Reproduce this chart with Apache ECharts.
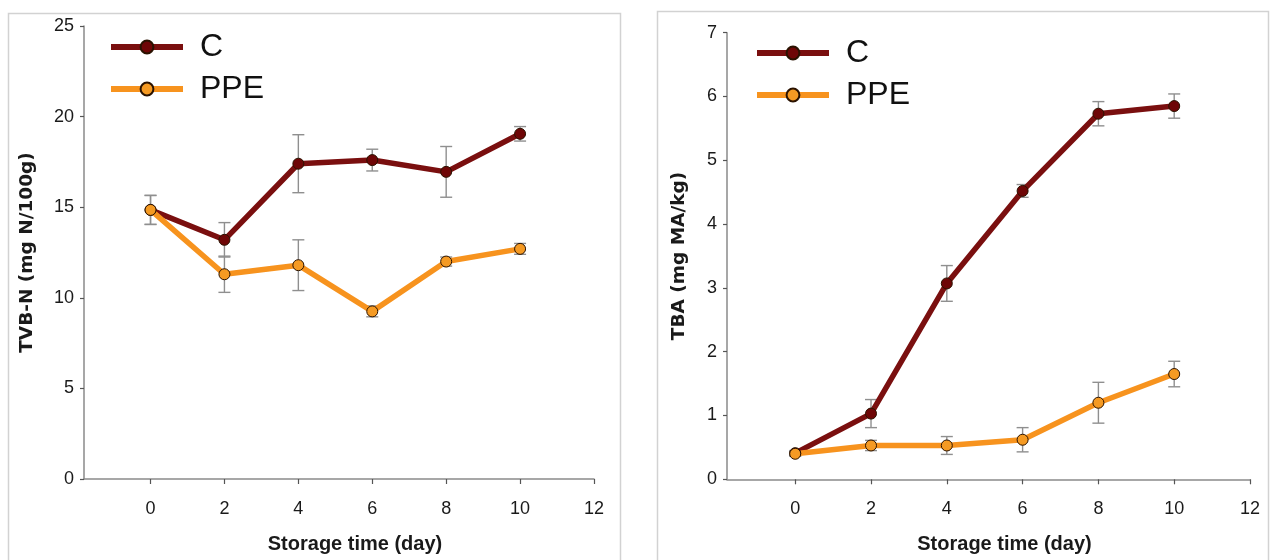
<!DOCTYPE html>
<html>
<head>
<meta charset="utf-8">
<title>TVB-N and TBA during storage</title>
<script src="https://cdn.jsdelivr.net/npm/echarts@6/dist/echarts.min.js"></script>
<style>
  html, body { margin: 0; padding: 0; background: #fff; }
  #chart { width: 1271px; height: 560px; }
</style>
</head>
<body>
<div id="chart"></div>
<script>
// Storage days and the tick labels shown on the x axes
const days = [0, 2, 4, 6, 8, 10];
const dayTicks = [0, 2, 4, 6, 8, 10, 12];

// TVB-N (mg N/100g): means and standard deviations
const tvbnC = [14.85, 13.2, 17.4, 17.6, 16.95, 19.05];
const tvbnCErr = [0.8, 0.95, 1.6, 0.6, 1.4, 0.4];
const tvbnPPE = [14.85, 11.3, 11.8, 9.25, 12.0, 12.7];
const tvbnPPEErr = [0.8, 1.0, 1.4, 0.3, 0.25, 0.3];

// TBA (mg MA/kg): means and standard deviations
const tbaC = [0.41, 1.03, 3.07, 4.52, 5.73, 5.85];
const tbaCErr = [0.04, 0.22, 0.28, 0.1, 0.19, 0.19];
const tbaPPE = [0.40, 0.53, 0.53, 0.62, 1.2, 1.65];
const tbaPPEErr = [0.04, 0.08, 0.14, 0.19, 0.32, 0.2];

const NARROW = "'Liberation Sans Narrow', 'Liberation Sans', Arial, sans-serif";
const BOLD = "'DejaVu Sans', 'Liberation Sans', sans-serif";
const C_LINE = '#7a0f0f';
const C_FILL = '#6e0606';
const PPE_LINE = '#f7931e';
const PPE_FILL = '#f59a23';

const pts = (ys) => days.map((d, i) => [d, ys[i]]);
const bars = (ys, es) => days.map((d, i) => [d, ys[i] - es[i], ys[i] + es[i]]);

function errorSeries(idx, ys, es) {
  return {
    type: 'custom',
    xAxisIndex: idx, yAxisIndex: idx,
    z: 1,
    silent: true,
    encode: { x: 0, y: [1, 2] },
    data: bars(ys, es),
    renderItem: (params, api) => {
      const lo = api.coord([api.value(0), api.value(1)]);
      const hi = api.coord([api.value(0), api.value(2)]);
      const w = 6;
      const style = { stroke: '#8f8f8f', lineWidth: 1.4 };
      return {
        type: 'group',
        children: [
          { type: 'line', shape: { x1: lo[0], y1: lo[1], x2: hi[0], y2: hi[1] }, style },
          { type: 'line', shape: { x1: lo[0] - w, y1: lo[1], x2: lo[0] + w, y2: lo[1] }, style },
          { type: 'line', shape: { x1: hi[0] - w, y1: hi[1], x2: hi[0] + w, y2: hi[1] }, style }
        ]
      };
    }
  };
}

function lineSeries(idx, name, ys, lineColor, fillColor) {
  return {
    type: 'line',
    name,
    xAxisIndex: idx, yAxisIndex: idx,
    z: 3,
    data: pts(ys),
    symbol: 'circle',
    symbolSize: 11,
    lineStyle: { color: lineColor, width: 5.5 },
    itemStyle: { color: fillColor, borderColor: '#2a1200', borderWidth: 1 },
    emphasis: { disabled: true },
    animation: false
  };
}

function xAxis(idx) {
  return {
    type: 'value', gridIndex: idx,
    min: -1.8, max: 12,
    name: 'Storage time (day)',
    nameLocation: 'middle',
    nameGap: 55,
    nameTextStyle: { fontFamily: NARROW, fontWeight: 'bold', fontSize: 20, color: '#1a1a1a', padding: [0, 0, 0, 32] },
    axisLine: { onZero: false, lineStyle: { color: '#8a8a8a', width: 1.5 } },
    axisTick: { show: true, customValues: dayTicks, length: 5, lineStyle: { color: '#555', width: 1.2 } },
    axisLabel: { customValues: dayTicks, margin: 21, fontFamily: NARROW, fontSize: 18, color: '#1a1a1a' },
    splitLine: { show: false }
  };
}

function yAxis(idx, name, max, interval, gap) {
  return {
    type: 'value', gridIndex: idx,
    min: 0, max, interval,
    name,
    nameLocation: 'middle',
    nameGap: gap,
    nameTextStyle: { fontFamily: BOLD, fontWeight: 'bold', fontSize: 18.5, color: '#1a1a1a' },
    axisLine: { show: true, onZero: false, lineStyle: { color: '#8a8a8a', width: 1.5 } },
    axisTick: { show: true, length: 4, lineStyle: { color: '#555', width: 1.2 } },
    axisLabel: { margin: 10, fontFamily: NARROW, fontSize: 18, color: '#1a1a1a' },
    splitLine: { show: false }
  };
}

function legend(left, top) {
  return {
    orient: 'vertical',
    left, top,
    data: ['C', 'PPE'],
    itemWidth: 72,
    itemHeight: 16,
    itemGap: 8,
    selectedMode: false,
    lineStyle: { width: 6 },
    textStyle: { fontFamily: NARROW, fontSize: 32, lineHeight: 34, color: '#111', padding: [0, 0, 0, 12] }
  };
}

const chart = echarts.init(document.getElementById('chart'), null, { renderer: 'canvas' });
chart.setOption({
  backgroundColor: '#ffffff',
  animation: false,
  graphic: [
    { type: 'rect', z: -10, shape: { x: 8.5, y: 13.5, width: 612, height: 560 }, style: { fill: 'none', stroke: '#d2d2d2', lineWidth: 1.5 } },
    { type: 'rect', z: -10, shape: { x: 657.5, y: 11.5, width: 611, height: 560 }, style: { fill: 'none', stroke: '#d2d2d2', lineWidth: 1.5 } }
  ],
  legend: [legend(103, 25), legend(749, 31)],
  grid: [
    { left: 84, top: 26, width: 510, height: 453 },
    { left: 727, top: 32.7, width: 523, height: 446.6 }
  ],
  xAxis: [xAxis(0), xAxis(1)],
  yAxis: [
    yAxis(0, 'TVB-N (mg N/100g)', 25, 5, 47),
    yAxis(1, 'TBA (mg MA/kg)', 7, 1, 38)
  ],
  series: [
    errorSeries(0, tvbnC, tvbnCErr),
    errorSeries(0, tvbnPPE, tvbnPPEErr),
    lineSeries(0, 'C', tvbnC, C_LINE, C_FILL),
    lineSeries(0, 'PPE', tvbnPPE, PPE_LINE, PPE_FILL),
    errorSeries(1, tbaC, tbaCErr),
    errorSeries(1, tbaPPE, tbaPPEErr),
    lineSeries(1, 'C', tbaC, C_LINE, C_FILL),
    lineSeries(1, 'PPE', tbaPPE, PPE_LINE, PPE_FILL)
  ]
});
</script>
</body>
</html>
